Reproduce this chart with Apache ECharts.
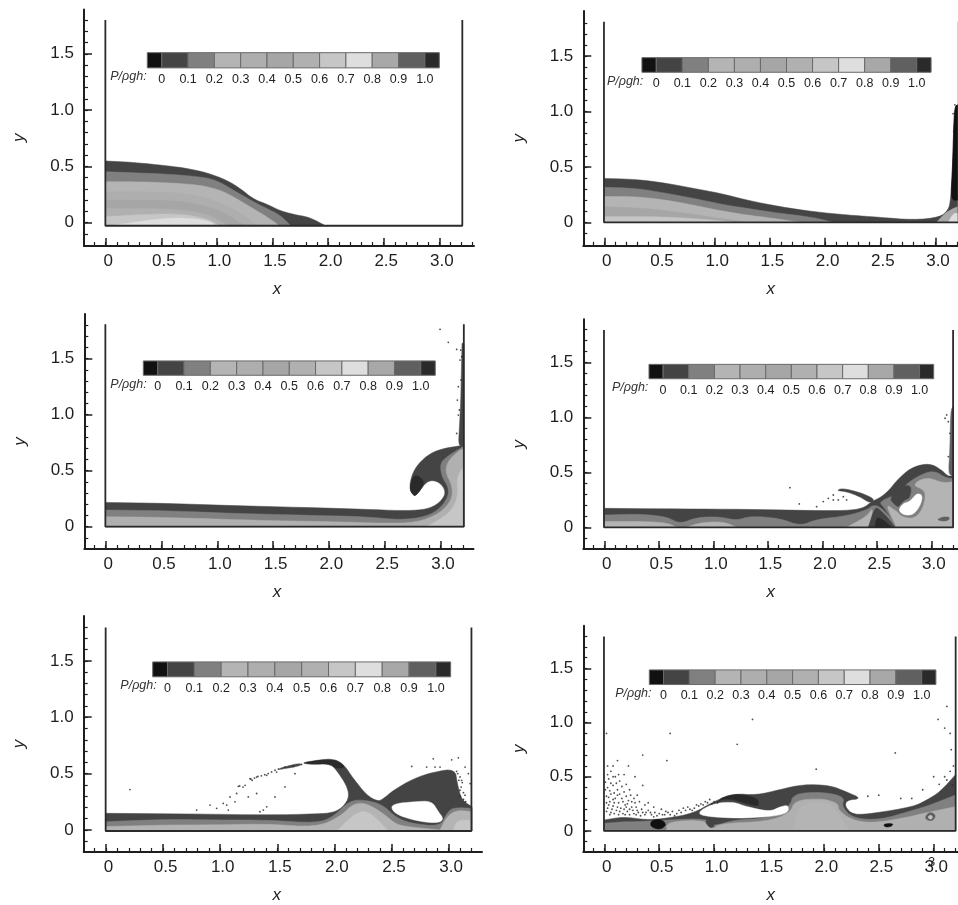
<!DOCTYPE html>
<html><head><meta charset="utf-8">
<style>html,body{margin:0;padding:0;background:#fff}#c{width:958px;height:905px}</style>
<script src="https://cdn.jsdelivr.net/npm/echarts@6/dist/echarts.min.js"></script>
</head><body><div id="c"></div>
<script>
// Tick values
const xMajor = [0,0.5,1,1.5,2,2.5,3];
const yMajor = [0,0.5,1,1.5];
const xMinor = [-0.1,0,0.1,0.2,0.3,0.4,0.5,0.6,0.7,0.8,0.9,1,1.1,1.2,1.3,1.4,1.5,1.6,1.7,1.8,1.9,2,2.1,2.2,2.3,2.4,2.5,2.6,2.7,2.8,2.9,3,3.1,3.2,3.3];
const yMinor = [-0.1,0,0.1,0.2,0.3,0.4,0.5,0.6,0.7,0.8,0.9,1,1.1,1.2,1.3,1.4,1.5,1.6,1.7,1.8];
// Colour bar
const barLevels = [-0.055,0,0.1,0.2,0.3,0.4,0.5,0.6,0.7,0.8,0.9,1.0,1.055];
const barLabels = ['0','0.1','0.2','0.3','0.4','0.5','0.6','0.7','0.8','0.9','1.0'];
const barGreys = ['#111111','#444444','#808080','#b4b4b4','#aeaeae','#a6a6a6','#b0b0b0','#c6c6c6','#dedede','#a8a8a8','#606060','#2a2a2a'];
const barTitle = 'P/\u03c1gh:';

// Panel 1 bands, [x, y]
const p1a=[[0,.548],[.249,.536],[.549,.506],[.728,.483],[.908,.444],[1.088,.379],[1.208,.305],[1.327,.21],[1.447,.166],[1.567,.107],[1.687,.074],[1.837,.047],[1.963,-.02],[0,-.02]];
const p1b=[[0,.453],[.249,.444],[.549,.432],[.848,.409],[.998,.376],[1.148,.29],[1.328,.186],[1.448,.127],[1.568,.068],[1.658,-.02],[0,-.02]];
const p1c=[[0,.364],[.249,.364],[.549,.355],[.848,.335],[1.028,.29],[1.148,.231],[1.298,.142],[1.448,.053],[1.553,-.02],[0,-.02]];
const p1d=[[0,.275],[.399,.275],[.728,.261],[.968,.201],[1.148,.127],[1.358,-.02],[0,-.02]];
const p1e=[[0,.201],[.549,.201],[.848,.166],[1.088,.083],[1.238,-.02],[0,-.02]];
const p1f=[[0,.127],[.549,.127],[.908,.083],[1.088,-.02],[0,-.02]];
const p1g=[[0,.053],[.249,.068],[.638,.083],[.908,.038],[1.013,-.02],[0,-.02]];
const p1h=[[.099,-.02],[.399,.024],[.638,.047],[.908,.024],[.983,-.02]];
// Panel 2
const p2a=[[0,.396],[.293,.388],[.564,.352],[.806,.307],[1.048,.262],[1.29,.2],[1.592,.14],[1.893,.096],[2.195,.066],[2.498,.045],[2.8,.021],[3.04,.045],[3.116,.111],[3.137,.201],[3.155,.502],[3.17,1.04],[3.2,1.06],[3.2,0],[0,0]];
const p2b=[[0,.316],[.293,.307],[.564,.262],[.806,.217],[1.048,.165],[1.29,.126],[1.592,.081],[1.893,.045],[2.07,0],[0,0]];
const p2c=[[0,.232],[.293,.232],[.564,.2],[.806,.156],[1.048,.105],[1.29,.066],[1.53,.036],[1.77,0],[0,0]];
const p2d=[[0,.141],[.383,.126],[.746,.081],[1.048,.036],[1.29,0],[0,0]];
const p2e=[[0,.051],[.534,.051],[.987,.021],[1.17,0],[0,0]];
const p2f=[[3.01,0],[3.07,.066],[3.13,.111],[3.2,.14],[3.2,0]];
const p2g=[[3.116,0],[3.161,.081],[3.2,.081],[3.2,0]];
const p2h=[[3.137,.2],[3.155,.502],[3.17,1.04],[3.2,1.06],[3.2,.2]];
// Panel 3
const p3a=[[0,.217],[.547,.208],[1.144,.188],[1.741,.173],[2.338,.155],[2.637,.143],[2.846,.149],[2.966,.193],[3.035,.268],[3.041,.327],[2.996,.393],[2.921,.417],[2.861,.387],[2.786,.283],[2.757,.277],[2.721,.342],[2.742,.461],[2.802,.565],[2.907,.655],[3.026,.699],[3.16,.72],[3.21,.729],[3.21,0],[0,0]];
const p3b=[[0,.149],[.547,.143],[1.144,.119],[1.741,.104],[2.339,.089],[2.637,.06],[2.876,.089],[2.996,.164],[3.07,.268],[3.07,.357],[3.011,.446],[2.996,.565],[3.056,.625],[3.175,.699],[3.211,.723],[3.211,0],[0,0]];
const p3c=[[0,.089],[.547,.083],[1.443,.054],[2.04,.045],[2.488,.03],[2.787,.036],[2.996,.119],[3.1,.238],[3.109,.357],[3.041,.491],[3.071,.595],[3.175,.685],[3.211,.699],[3.211,0],[0,0]];
const p3d=[[2.876,0],[3.085,.119],[3.16,.268],[3.145,.446],[3.211,.536],[3.211,0]];
const p3e=[[2.721,.342],[2.757,.277],[2.787,.283],[2.861,.387],[2.817,.446],[2.757,.461]];
const p3f=[[3.16,.72],[3.17,.893],[3.182,1.131],[3.188,1.429],[3.193,1.637],[3.21,1.637],[3.21,.72]];
// Panel 4
const p4a=[[0,.173],[.694,.167],[1.306,.164],[1.917,.152],[2.223,.152],[2.376,.173],[2.453,.234],[2.575,.294],[2.713,.461],[2.835,.553],[2.988,.583],[3.095,.522],[3.156,.461],[3.202,.477],[3.202,0],[0,0]];
const p4b=[[2.483,.249],[2.407,.294],[2.284,.334],[2.177,.355],[2.131,.334],[2.223,.325],[2.346,.279],[2.438,.219]];
const p4c=[[0,.112],[.327,.121],[.572,.097],[.694,.03],[.847,.091],[1.061,.097],[1.214,.061],[1.336,.103],[1.612,.082],[1.795,.012],[1.948,.073],[2.223,.103],[2.407,.158],[2.468,.203],[2.529,.188],[2.651,.067],[2.682,0],[0,0]];
const p4d=[[0,.052],[.541,.052],[.664,0],[0,0]];
const p4e=[[.755,0],[.878,.043],[1.092,.052],[1.214,0]];
const p4f=[[2.223,0],[2.407,.097],[2.468,.188],[2.438,0]];
const p4g=[[2.514,.234],[2.713,.31],[2.743,.37],[2.865,.461],[3.018,.522],[3.141,.446],[3.202,.446],[3.202,0],[2.682,0],[2.575,.173]];
const p4h=[[2.575,.219],[2.682,.143],[2.774,.082],[2.865,.112],[2.942,.249],[2.942,.34],[2.82,.386],[2.957,.461],[3.11,.401],[3.202,.416],[3.202,0],[2.682,0]];
const p4i=[[2.62,.264],[2.713,.37],[2.82,.386],[2.804,.264],[2.713,.173],[2.651,.219]];
const p4j=[[2.682,.158],[2.737,.234],[2.804,.264],[2.865,.34],[2.942,.31],[2.927,.188],[2.851,.082],[2.728,.097]];
const p4k=[[2.697,.158],[2.743,.219],[2.804,.234],[2.865,.31],[2.92,.294],[2.902,.203],[2.835,.112],[2.743,.112]];
const p4l=[[2.483,.188],[2.422,0],[2.667,0],[2.606,.082],[2.529,.158]];
const p4m=[[2.498,.097],[2.483,0],[2.636,0],[2.56,.067]];
const p4n=[[2.651,0],[2.804,.067],[2.988,.043],[3.202,.067],[3.202,0]];
const p4o=[[3.043,.067],[3.11,.097],[3.177,.091],[3.141,.052]];
const p4p=[[3.177,1.069],[3.202,1.099],[3.202,.477],[3.156,.477],[3.171,.704]];
// Panel 5
const p5a=[[0,.147],[.823,.141],[1.407,.132],[1.845,.141],[1.991,.153],[2.078,.205],[2.131,.293],[2.107,.396],[2.02,.528],[1.961,.593],[1.991,.631],[2.078,.587],[2.166,.455],[2.283,.308],[2.37,.258],[2.414,.264],[2.516,.352],[2.691,.455],[2.866,.513],[3.056,.543],[3.076,.411],[3.114,.264],[3.205,.205],[3.205,-.01],[0,-.01]];
const p5b=[[0,.073],[.531,.094],[.969,.088],[1.407,.088],[1.845,.059],[1.991,.117],[2.137,.264],[2.283,.264],[2.428,.22],[2.531,.117],[2.662,.059],[2.925,.029],[2.983,.147],[3.041,.2],[3.205,.191],[3.205,-.01],[0,-.01]];
const p5c=[[0,.029],[.531,.044],[.969,.044],[1.407,.053],[1.845,.023],[2.049,.117],[2.166,.235],[2.283,.235],[2.428,.147],[2.545,.044],[2.691,.023],[2.925,0],[2.983,.117],[3.071,.176],[3.205,.161],[3.205,-.01],[0,-.01]];
const p5d=[[2.02,-.01],[2.195,.161],[2.312,.161],[2.472,-.01]];
const p5e=[[3.041,-.01],[3.071,.088],[3.205,.088],[3.205,-.01]];
const p5f=[[2.493,.205],[2.545,.235],[2.691,.249],[2.852,.258],[2.91,.161],[2.954,.103],[2.925,.065],[2.808,.065],[2.633,.103],[2.531,.147]];
const p5g=[[1.699,.593],[1.874,.622],[1.991,.631],[2.107,.558],[2.02,.543],[1.947,.587],[1.816,.581]];
const p5h=[[1.5,.535],[1.553,.558],[1.699,.593],[1.713,.572],[1.553,.541]];
// Panel 6
const p6a=[[0,.101],[.173,.131],[.386,.101],[.568,.116],[.811,.162],[.993,.269],[1.175,.345],[1.387,.33],[1.6,.382],[1.812,.43],[2.055,.421],[2.207,.36],[2.344,.299],[2.207,.284],[2.192,.223],[2.268,.147],[2.45,.162],[2.814,.223],[2.936,.284],[3.057,.36],[3.194,.513],[3.194,0],[0,0]];
const p6b=[[0,.07],[.173,.085],[.325,.085],[.568,.101],[.932,.116],[.993,.04],[1.175,.101],[1.478,.116],[1.691,.223],[1.721,.345],[1.995,.36],[2.192,.314],[2.161,.223],[2.268,.116],[2.511,.101],[2.814,.192],[2.966,.238],[3.194,.33],[3.194,0],[0,0]];
const p6c=[[0,0],[.568,0],[.568,.085],[.932,.101],[.978,.009],[1.053,.07],[1.478,.085],[1.691,.162],[1.736,.284],[1.995,.299],[2.131,.253],[2.131,.192],[2.253,.101],[2.45,.07],[2.784,.131],[2.905,.162],[3.194,.223],[3.194,0]];
const p6d=[[1.721,0],[1.767,.253],[2.025,.269],[2.116,.192],[2.237,0]];
const p6e=[[.841,.168],[.993,.253],[1.175,.269],[1.296,.223],[1.509,.177],[1.6,.223],[1.676,.238],[1.676,.177],[1.6,.147],[1.478,.131],[1.236,.116],[.932,.131]];
const p6f=[[1.023,.284],[1.175,.345],[1.387,.314],[1.418,.223],[1.296,.253],[1.145,.299]];
const p6g=[[.431,.101],[.522,.107],[.568,.055],[.507,.009],[.416,.04]];
const p6h=[[.902,.101],[1.023,.101],[.978,.009]];
const p6i=[[2.541,.064],[2.632,.07],[2.617,.04],[2.556,.034]];
const p6j=[[2.92,.131],[2.966,.177],[3.021,.147],[2.996,.095],[2.942,.095]];
const p6k=[[2.945,.125],[2.97,.15],[2.995,.125],[2.97,.105]];

// Spray droplets, [x, y]
const spray2=[[3.176,1.06],[3.16,.98],[3.165,.82]];
const spray3=[[2.996,1.762],[3.07,1.646],[3.145,1.583],[3.181,1.577],[3.19,1.518],[3.16,1.25],[3.169,1.042],[3.16,.997],[3.145,.833],[3.175,1.488],[3.184,1.31],[3.151,1.131]];
const spray4=[[1.703,.361],[1.789,.213],[1.948,.188],[2.009,.234],[2.055,.264],[2.101,.294],[2.147,.249],[2.193,.279],[2.223,.249],[2.101,.249],[3.141,1.023],[3.156,.962],[3.126,.993],[3.171,.856],[3.156,.644]];
const spray5=[[.21,.358],[1.261,.455],[1.319,.469],[1.407,.484],[1.494,.513],[1.567,.558],[1.64,.563],[1.713,.581],[1.159,.387],[1.218,.396],[1.086,.293],[1.144,.323],[1.13,.249],[1.057,.22],[1.071,.176],[.911,.22],[.794,.176],[.969,.191],[1.027,.235],[1.246,.293],[1.319,.323],[1.407,.205],[1.48,.293],[1.567,.381],[1.655,.499],[1.348,.161],[1.378,.176],[2.677,.563],[2.866,.631],[2.881,.558],[3.027,.622],[3.085,.64],[3.144,.558],[3.173,.499],[3.114,.44],[3.1,.352],[3.144,.308],[2.925,.558],[2.808,.558],[3.188,.411],[1.27,.45],[1.3,.46],[1.33,.475],[1.36,.48],[1.39,.49],[1.42,.5],[1.45,.515],[1.48,.53],[1.51,.54],[1.28,.44],[1.17,.39],[1.2,.38],[3.08,.5],[3.1,.47],[3.12,.42],[3.09,.44],[3.11,.38],[3.13,.33],[3.1,.3],[3.13,.27],[3.15,.25],[3.07,.52]];
const spray6=[[.02,.9],[.03,.6],[.06,.55],[.1,.5],[.04,.48],[.14,.46],[.2,.43],[.08,.42],[.03,.4],[.12,.38],[.18,.36],[.06,.34],[.24,.33],[.02,.32],[.1,.3],[.16,.3],[.22,.28],[.05,.27],[.13,.26],[.28,.26],[.19,.24],[.08,.23],[.25,.22],[.34,.2],[.03,.21],[.15,.21],[.3,.19],[.11,.19],[.21,.18],[.38,.17],[.27,.16],[.06,.17],[.17,.16],[.33,.14],[.43,.15],[.48,.14],[.5,.16],[.55,.15],[.58,.17],[.62,.18],[.66,.16],[.7,.17],[.74,.19],[.78,.2],[.82,.21],[.86,.23],[.9,.24],[.94,.26],[1.0,.27],[1.05,.28],[.6,.15],[.64,.14],[1.35,1.03],[1.21,.8],[.6,.9],[.57,.65],[1.93,.57],[3.12,1.15],[3.04,1.03],[3.1,.95],[3.15,.9],[3.16,.75],[2.65,.72],[2.7,.3],[2.5,.33],[2.4,.32],[3.0,.5],[3.1,.5],[3.15,.55],[3.12,.47],[3.18,.6],[3.17,.42],[3.05,.43],[2.9,.38],[2.8,.3],[.35,.7],[.22,.6],[.12,.65],[.18,.52],[.08,.6],[.28,.5],[.35,.42],[.3,.33],[.4,.26],[.45,.22],[.52,.2],
 [.02,.26],[.04,.24],[.07,.2],[.09,.26],[.12,.22],[.14,.18],[.18,.2],[.2,.22],[.23,.2],[.26,.19],[.29,.22],[.31,.17],[.35,.17],[.37,.15],[.4,.19],[.42,.17],[.45,.13],[.02,.18],[.05,.15],[.09,.16],[.13,.15],[.19,.15],[.23,.15],[.29,.15],[.01,.38],[.05,.37],[.09,.35],[.14,.34],[.2,.32],[.27,.3],[.32,.27],[.37,.24],[.04,.31],[.08,.29],[.12,.33],[.17,.27],[.21,.25],[.25,.27],[.01,.45],[.06,.44],[.11,.44],[.16,.41],[.23,.38],[.03,.52],[.08,.5],[.13,.52],
 [.68,.19],[.72,.21],[.76,.22],[.8,.19],[.84,.24],[.88,.25],[.92,.27],[.96,.29],[.98,.25],[1.03,.26],[1.08,.3],[.56,.18],[.53,.15],[.46,.17]];

// Each region: [colour bar cell, outline]; cell -1 is air
const regions1=[[1,p1a],[2,p1b],[3,p1c],[4,p1d],[5,p1e],[6,p1f],[7,p1g],[8,p1h]];
const regions2=[[1,p2a],[0,p2h],[2,p2b],[3,p2c],[5,p2d],[7,p2e],[9,p2f],[8,p2g]];
const regions3=[[1,p3a],[2,p3b],[6,p3c],[7,p3d],[11,p3e],[1,p3f]];
const regions4=[[1,p4a],[1,p4b],[2,p4c],[3,p4d],[3,p4e],[3,p4f],[2,p4g],[3,p4h],[1,p4i],[2,p4j],[-1,p4k],[3,p4n],[1,p4l],[11,p4m],[10,p4o],[10,p4p]];
const regions5=[[1,p5a],[2,p5b],[3,p5c],[7,p5d],[7,p5e],[-1,p5f],[11,p5g],[1,p5h]];
const regions6=[[1,p6a],[2,p6b],[6,p6c],[3,p6d],[-1,p6e],[11,p6f],[0,p6g],[1,p6h],[0,p6i],[10,p6j],[7,p6k]];

// Axis calibration
const panels=[
 {regions:regions1,spray:[],      box:[84,474,9.5,246],    cal:[105.7,111.2,222.7,112.6],wall:[3.207,1.8,-.027],bar:[.374,3.0,1.51,1.375],t:-.006,nameShift:2},
 {regions:regions2,spray:spray2,  box:[583.3,958,11,245.7],cal:[604.3,110.4,222.3,110.8],wall:[3.21,1.811,0],bar:[.341,2.96,1.486,1.354],t:.012,nameShift:0},
 {regions:regions3,spray:spray3,  box:[84.3,473.5,314,549],cal:[105.7,111.6,526.7,112],wall:[3.209,1.807,0],bar:[.337,2.953,1.48,1.352],t:.03,nameShift:2},
 {regions:regions4,spray:spray4,  box:[583.3,958,319.3,549],cal:[604.3,109,527.3,109.8],wall:[3.2,1.797,0],bar:[.41,3.022,1.484,1.353],t:-.006,nameShift:0},
 {regions:regions5,spray:spray5,  box:[83.7,482,616,854],  cal:[106,114.2,831.7,113.6],wall:[3.2,1.796,-.01],bar:[.409,3.018,1.491,1.359],t:.035,nameShift:6},
 {regions:regions6,spray:spray6,  box:[583.3,958,625.7,854],cal:[604.3,109.8,832.7,109.2],wall:[3.2,1.795,0],bar:[.41,3.02,1.487,1.352],t:.02,nameShift:0}
];

// Rounds an outline by corner cutting; points on the tank walls stay put
function roundOutline(pts){
  let cur=pts.map(q=>({q,fixed:q[1]<=0.001||q[0]<=0.001||q[0]>=3.19}));
  for(let it=0;it<2;it++){
    const out=[],n=cur.length;
    cur.forEach((v,k)=>{
      if(v.fixed){out.push(v);return;}
      const a=cur[(k+n-1)%n].q,b=cur[(k+1)%n].q,c=v.q;
      out.push({q:[c[0]*.75+a[0]*.25,c[1]*.75+a[1]*.25],fixed:false});
      out.push({q:[c[0]*.75+b[0]*.25,c[1]*.75+b[1]*.25],fixed:false});
    });
    cur=out;
  }
  return cur.map(v=>v.q);
}

const INK='#1e1e1e', FONT='"Liberation Sans",Arial,sans-serif';
const grid=[],xAxis=[],yAxis=[],series=[];
panels.forEach((p,i)=>{
  const [L,R,T,B]=p.box,[x0,xp,y0,yp]=p.cal;
  const xMin=(L-x0)/xp,xMax=(R-x0)/xp,yMin=(y0-B)/yp,yMax=(y0-T)/yp;
  grid.push({left:L,top:T,width:R-L,height:B-T,containLabel:false});
  const xi=2*i,yi=2*i;
  const fmt=v=>v===0?'0':v.toFixed(1);
  xAxis.push({gridIndex:i,type:'value',min:xMin,max:xMax,position:'bottom',name:'x',nameLocation:'middle',nameGap:35,
    nameTextStyle:{fontFamily:FONT,fontStyle:'italic',fontSize:17,color:INK,padding:[0,2*p.nameShift,0,0]},
    axisLine:{show:true,onZero:false,lineStyle:{color:INK,width:2}},
    axisTick:{show:true,inside:true,length:8,customValues:xMajor,lineStyle:{color:INK,width:1.5}},
    axisLabel:{show:true,customValues:xMajor,formatter:fmt,margin:7,fontFamily:FONT,fontSize:17,color:INK,hideOverlap:false,padding:[0,0,0,5]},
    splitLine:{show:false}});
  xAxis.push({gridIndex:i,type:'value',min:xMin,max:xMax,position:'bottom',
    axisLine:{show:false,onZero:false},
    axisTick:{show:true,inside:true,length:4,customValues:xMinor.filter(v=>v>xMin&&v<xMax),lineStyle:{color:INK,width:1.2}},
    axisLabel:{show:false},splitLine:{show:false}});
  yAxis.push({gridIndex:i,type:'value',min:yMin,max:yMax,position:'left',name:'y',nameLocation:'middle',nameRotate:90,nameGap:56,
    nameTextStyle:{fontFamily:FONT,fontStyle:'italic',fontSize:17,color:INK,padding:[0,20,0,0]},
    axisLine:{show:true,onZero:false,lineStyle:{color:INK,width:2}},
    axisTick:{show:true,inside:true,length:8,customValues:yMajor,lineStyle:{color:INK,width:1.5}},
    axisLabel:{show:true,customValues:yMajor,formatter:fmt,margin:10,fontFamily:FONT,fontSize:17,color:INK,hideOverlap:false},
    splitLine:{show:false}});
  yAxis.push({gridIndex:i,type:'value',min:yMin,max:yMax,position:'left',
    axisLine:{show:false,onZero:false},
    axisTick:{show:true,inside:true,length:4,customValues:yMinor.filter(v=>v>yMin&&v<yMax),lineStyle:{color:INK,width:1.2}},
    axisLabel:{show:false},splitLine:{show:false}});
  const base={xAxisIndex:xi,yAxisIndex:yi,coordinateSystem:'cartesian2d',silent:true};
  // Fluid regions
  series.push({...base,type:'custom',clip:false,data:p.regions.map((r,k)=>[k]),
    renderItem:(params,api)=>{
      const r=p.regions[params.dataIndex];
      const fill=r[0]<0?'#ffffff':barGreys[r[0]];
      return {type:'polygon',shape:{points:roundOutline(r[1]).map(q=>api.coord(q))},style:{fill,stroke:fill,lineWidth:0.5}};
    }});
  // Droplets
  if(p.spray.length) series.push({...base,type:'scatter',symbol:'circle',symbolSize:1.8,itemStyle:{color:'#222'},data:p.spray});
  // Tank walls
  const [wr,wt,wb]=p.wall;
  series.push({...base,type:'line',symbol:'none',clip:false,lineStyle:{color:'#2a2a2a',width:1.8},
    data:[[-.003,wt],[-.003,wb],[wr,wb],[wr,wt]]});
  // Colour bar with its labels
  const [bl,br,bt,bb]=p.bar;
  const lv=v=>bl+(v-barLevels[0])/(barLevels[barLevels.length-1]-barLevels[0])*(br-bl);
  series.push({...base,type:'custom',clip:false,data:barGreys.map((c,k)=>[k]),
    renderItem:(params,api)=>{
      const k=params.dataIndex;
      const a=api.coord([lv(barLevels[k]),bt]),b=api.coord([lv(barLevels[k+1]),bb]);
      return {type:'rect',shape:{x:a[0],y:a[1],width:b[0]-a[0],height:b[1]-a[1]},style:{fill:barGreys[k],stroke:'#6a6a6a',lineWidth:1}};
    }});
  series.push({...base,type:'custom',clip:false,data:barLabels.map((c,k)=>[k]),
    renderItem:(params,api)=>{
      const k=params.dataIndex;
      const a=api.coord([lv(barLevels[k+1]),bb-.105]);
      return {type:'text',style:{text:barLabels[k],x:a[0],y:a[1],fill:'#222',font:'12.5px '+FONT,textAlign:'center',textVerticalAlign:'middle'}};
    }});
  series.push({...base,type:'custom',clip:false,data:[[0]],
    renderItem:(params,api)=>{
      const a=api.coord([bl+p.t,bb-.08]);
      return {type:'text',style:{text:barTitle,x:a[0],y:a[1],fill:'#333',font:'italic 12.5px '+FONT,textAlign:'right',textVerticalAlign:'middle'}};
    }});
});
const chart=echarts.init(document.getElementById('c'),null,{renderer:'canvas'});
chart.setOption({animation:false,backgroundColor:'#fff',grid,xAxis,yAxis,series,
  graphic:[{type:'text',left:928,top:856,style:{text:'3',font:'13px '+FONT,fill:'#222'}}]});
</script></body></html>
